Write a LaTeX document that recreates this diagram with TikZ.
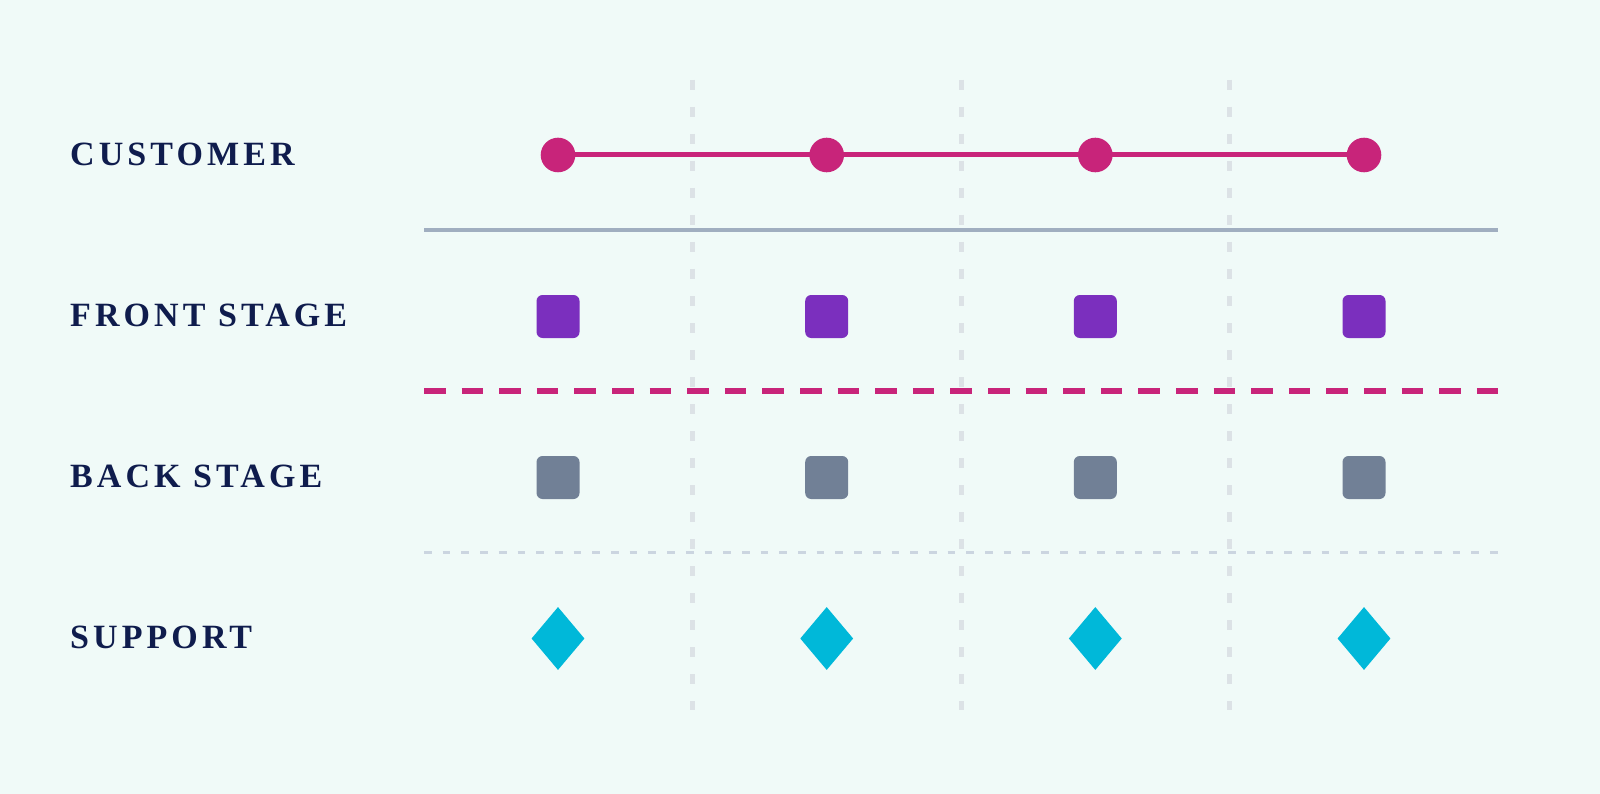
\documentclass[tikz,border=0pt]{standalone}
\usepackage{fontspec}
\setmainfont{Liberation Serif}
\newfontfamily\labelfont{Liberation Serif Bold}[LetterSpace=12]
\usetikzlibrary{shapes.geometric}
\pgfdeclarelayer{under}
\pgfsetlayers{under,main}
\definecolor{bgc}{HTML}{F0FAF8}
\definecolor{navy}{HTML}{0F1C4D}
\definecolor{pinkc}{HTML}{C8247A}
\definecolor{purplec}{HTML}{7B2FBE}
\definecolor{slatec}{HTML}{718096}
\definecolor{cyanc}{HTML}{00B8D9}
\definecolor{rulec}{HTML}{A0AEC0}
\definecolor{dotc}{HTML}{CBD5E0}
\definecolor{gridc}{HTML}{DCE2E6}
\begin{document}
\begin{tikzpicture}[x=1pt,y=-1pt,
  lane/.style={anchor=base west,inner sep=0pt,text=navy,font=\labelfont\fontsize{34}{40}\selectfont},
  dot/.style={circle,fill=pinkc,minimum size=34.6pt,inner sep=0pt},
  frontbox/.style={rectangle,rounded corners=6pt,fill=purplec,minimum size=43pt,inner sep=0pt},
  backbox/.style={rectangle,rounded corners=6pt,fill=slatec,minimum size=43pt,inner sep=0pt},
  supp/.style={diamond,fill=cyanc,minimum width=53pt,minimum height=63pt,inner sep=0pt},
  gridline/.style={draw=gridc,line width=5pt,dash pattern=on 10pt off 17pt},
  custline/.style={draw=pinkc,line width=5pt}
]
\begin{pgfonlayer}{under}
\fill[bgc] (0,0) rectangle (1600,794);
\end{pgfonlayer}
\useasboundingbox (0,0) rectangle (1600,794);

% vertical column separators
\foreach \x in {692.5,961,1229.7} \draw[gridline] (\x,80) -- (\x,710);

% horizontal lane separators
\draw[rulec,line width=3.5pt] (424,230) -- (1498,230);
\draw[pinkc,line width=6pt,dash pattern=on 21.6pt off 16pt] (424,391) -- (1498,391);
\draw[dotc,line width=3.5pt,dash pattern=on 7.7pt off 11pt] (424,552.7) -- (1498,552.7);

% lane labels
\node[lane] (lcust) at (70,166) {CUSTOMER};
\node[lane] (lfront) at (70,326) {FRONT STAGE};
\node[lane] (lback) at (70,487) {BACK STAGE};
\node[lane] (lsupp) at (70,648) {SUPPORT};

% columns
\foreach \i/\x in {1/558,2/826.7,3/1095.3,4/1364} {
  \node[dot] (c\i) at (\x,155) {};
  \node[frontbox] (f\i) at (\x,316.5) {};
  \node[backbox] (b\i) at (\x,477.5) {};
  \node[supp] (s\i) at (\x,638.5) {};
}
\begin{pgfonlayer}{under}
\draw[custline] (c1.center) -- (c2.center);
\draw[custline] (c2.center) -- (c3.center);
\draw[custline] (c3.center) -- (c4.center);
\end{pgfonlayer}
\end{tikzpicture}
\end{document}
